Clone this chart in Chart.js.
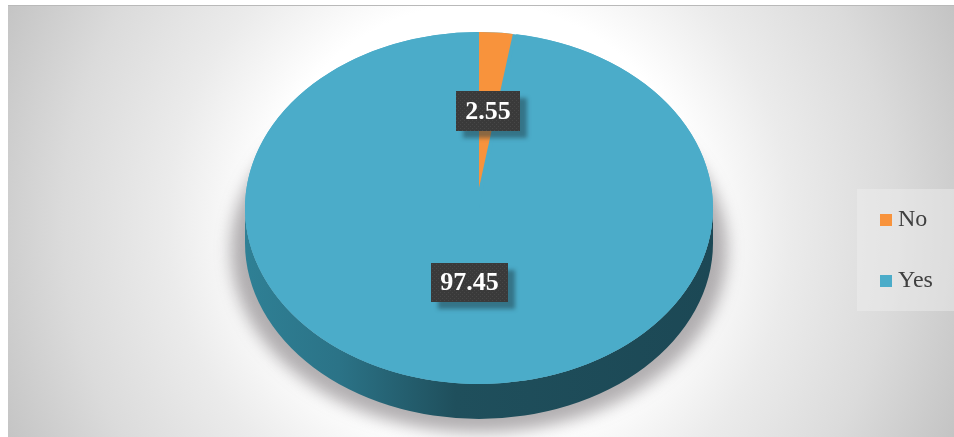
<!DOCTYPE html>
<html>
<head>
<meta charset="utf-8">
<style>
  html, body { margin: 0; padding: 0; background: #fff; overflow: hidden; }
  #wrap { position: absolute; left: 0; top: 0; width: 954px; height: 437px; }
  #panel {
    position: absolute; left: 8px; top: 5px; width: 946px; height: 432px;
    border-top: 1px solid #b9b9b9; box-sizing: border-box;
    background: radial-gradient(circle 520px at 471px 216px, #ffffff 0%, #ffffff 42%, #ebebeb 60%, #dbdbdb 80%, #c4c4c4 100%);
  }
  canvas { position: absolute; left: 0; top: 0; }
</style>
<script src="https://cdn.jsdelivr.net/npm/chart.js@4"></script>
</head>
<body>
<div id="wrap">
  <div id="panel"></div>
  <canvas id="pie" width="954" height="437"></canvas>
</div>
<script>
const categories = ['No', 'Yes'];
const values = [2.55, 97.45];
const sliceColors = ['#f8933c', '#4bacc9'];

// disc geometry, the report chart is a tilted 3D pie
const DISC = { cx: 479, cy: 208, rx: 234, ry: 176, depth: 35 };
const WEDGE = { cx: 479, cy: 188, rx: 212, ry: 156 };
const LABEL_SPOTS = [{ x: 488, y: 111, w: 64, h: 40 }, { x: 469.5, y: 282.5, w: 77, h: 39 }];

function ellipsePath(ctx, cx, cy, rx, ry) {
  ctx.beginPath();
  ctx.ellipse(cx, cy, rx, ry, 0, 0, Math.PI * 2);
}

function dotPattern(ctx) {
  const c = document.createElement('canvas');
  c.width = c.height = 4;
  const p = c.getContext('2d');
  p.fillStyle = '#3a3a3a';
  p.fillRect(0, 0, 4, 4);
  p.fillStyle = '#474747';
  p.fillRect(0, 0, 1, 1);
  p.fillRect(2, 2, 1, 1);
  return ctx.createPattern(c, 'repeat');
}

const tiltedPie = {
  id: 'tiltedPie',
  afterLayout(chart) {
    // legend sits in its own lighter box, below the middle of the canvas
    chart.legend.left = 849;
    chart.legend.top = 124;
  },
  beforeDraw(chart) {
    chart.ctx.fillStyle = 'rgba(240,240,240,0.45)';
    chart.ctx.fillRect(857, 189, 97, 122);
  },
  beforeDatasetDraw(chart) {
    const ctx = chart.ctx;
    const arcs = chart.getDatasetMeta(0).data;
    const r = arcs[0].outerRadius;

    // soft ground shadow
    ctx.save();
    ctx.filter = 'blur(8px)';
    ctx.fillStyle = 'rgba(95,88,92,0.48)';
    ellipsePath(ctx, DISC.cx, 250, DISC.rx + 14, 183);
    ctx.fill();
    ctx.restore();

    // side wall
    const wall = ctx.createLinearGradient(DISC.cx - DISC.rx, 0, DISC.cx + DISC.rx, 0);
    wall.addColorStop(0, '#2f8095');
    wall.addColorStop(0.2, '#2b7387');
    wall.addColorStop(0.45, '#1f4f5c');
    wall.addColorStop(1, '#1c4855');
    ctx.fillStyle = wall;
    ctx.beginPath();
    ctx.ellipse(DISC.cx, DISC.cy + DISC.depth, DISC.rx, DISC.ry, 0, 0, Math.PI);
    ctx.lineTo(DISC.cx - DISC.rx, DISC.cy);
    ctx.ellipse(DISC.cx, DISC.cy, DISC.rx, DISC.ry, 0, Math.PI, 0, true);
    ctx.closePath();
    ctx.fill();

    // top face base, hides the wedge gap under the No slice
    ctx.fillStyle = sliceColors[1];
    ellipsePath(ctx, DISC.cx, DISC.cy, DISC.rx, DISC.ry);
    ctx.fill();

    // library arcs, squashed from circles to the tilted shape
    const drawArc = (arc, g) => {
      ctx.save();
      ctx.translate(g.cx, g.cy);
      ctx.scale(g.rx / r, g.ry / r);
      ctx.translate(-arc.x, -arc.y);
      arc.draw(ctx);
      ctx.restore();
    };
    drawArc(arcs[1], DISC);
    drawArc(arcs[0], WEDGE);
    return false;
  },
  afterDatasetsDraw(chart) {
    const ctx = chart.ctx;

    // value labels
    const fill = dotPattern(ctx);
    values.forEach((v, i) => {
      const s = LABEL_SPOTS[i];
      const x = s.x - s.w / 2, y = s.y - s.h / 2;
      ctx.save();
      ctx.filter = 'blur(2px)';
      ctx.fillStyle = 'rgba(30,60,70,0.5)';
      ctx.fillRect(x + 7, y + 7, s.w, s.h);
      ctx.restore();
      ctx.fillStyle = fill;
      ctx.fillRect(x, y, s.w, s.h);
      ctx.fillStyle = '#fff';
      ctx.font = 'bold 26px "Liberation Serif", serif';
      ctx.textAlign = 'center';
      ctx.textBaseline = 'middle';
      ctx.fillText(v.toFixed(2), s.x, s.y + 1);
    });
  }
};

new Chart(document.getElementById('pie'), {
  type: 'pie',
  data: {
    labels: categories,
    datasets: [{ data: values, backgroundColor: sliceColors, borderWidth: 0 }]
  },
  options: {
    responsive: false,
    animation: false,
    layout: { padding: { top: 60, bottom: 60, left: 240, right: 0 } },
    plugins: {
      tooltip: { enabled: false },
      legend: {
        position: 'right',
        labels: {
          usePointStyle: true, pointStyle: 'rect',
          boxWidth: 0.01, boxHeight: 12, padding: 37,
          color: '#404040',
          font: { family: '"Liberation Serif", serif', size: 24 }
        }
      }
    }
  },
  plugins: [tiltedPie]
});
</script>
</body>
</html>
